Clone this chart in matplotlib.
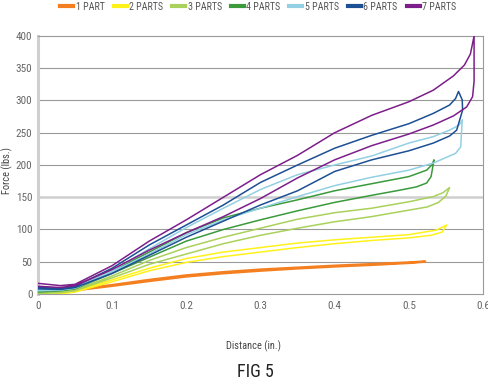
import matplotlib.pyplot as plt
from matplotlib import font_manager
from matplotlib.lines import Line2D

# distance (in.) along the outgoing (upper) branch and force (lbs.)
x_common = [0, 0.03, 0.05, 0.1, 0.15, 0.2, 0.25, 0.3, 0.35, 0.4, 0.45, 0.5]

p1_up_x = x_common + [0.522]
p1_up_f = [1, 5, 7, 14, 22, 29, 34, 38, 41, 44, 46.5, 49, 50.5]
p1_dn_x = x_common + [0.522]
p1_dn_f = [0, 3.5, 5.5, 12.5, 20, 27, 32, 36, 39.5, 42.5, 45, 48, 50]

p2_up_x = x_common + [0.537, 0.551]
p2_up_f = [-1, 2, 5, 22, 40, 55, 65, 72, 79, 84, 88, 92, 99, 107]
p2_dn_x = x_common + [0.53, 0.545, 0.551]
p2_dn_f = [-4, 0, 3, 19, 36, 49, 58, 65, 72, 78, 83, 87, 91, 96, 107]

p3_up_x = x_common + [0.533, 0.546, 0.555]
p3_up_f = [3, 4, 6, 28, 52, 72, 88, 102, 116, 126, 133, 143, 151, 157, 165]
p3_dn_x = x_common + [0.525, 0.54, 0.55, 0.555]
p3_dn_f = [1, 2, 5, 25, 46, 62, 78, 91, 102, 112, 120, 130, 135, 142, 152, 165]

p4_up_x = x_common + [0.524, 0.531, 0.534]
p4_up_f = [5, 6, 9, 36, 65, 95, 118, 133, 146, 160, 171, 182, 192, 200, 208]
p4_dn_x = x_common[:-1] + [0.488, 0.51, 0.524, 0.530, 0.534]
p4_dn_f = [3, 5, 8, 32, 57, 82, 100, 115, 129, 142, 153, 161, 166, 172, 182, 208]

p5_up_x = x_common + [0.533, 0.555, 0.568, 0.572]
p5_up_f = [7, 7, 10, 36, 70, 103, 133, 162, 185, 200, 214, 234, 244, 254, 262, 270]
p5_dn_x = x_common + [0.533, 0.551, 0.563, 0.570, 0.572]
p5_dn_f = [5, 6, 9, 34, 62, 92, 115, 133, 151, 168, 181, 192, 203, 212, 218, 228, 270]

p6_up_x = x_common + [0.533, 0.555, 0.563, 0.567]
p6_up_f = [10, 9, 12, 40, 76, 107, 138, 173, 200, 226, 246, 264, 280, 293, 303, 314]
p6_dn_x = x_common + [0.533, 0.555, 0.5645, 0.5725, 0.572, 0.567]
p6_dn_f = [8, 7, 10, 32, 60, 88, 113, 138, 160, 190, 208, 222, 234, 245, 254, 285, 301, 314]

p7_up_x = x_common + [0.533, 0.56, 0.575, 0.583, 0.588]
p7_up_f = [16.5, 13, 15, 44, 82, 115, 150, 185, 215, 250, 277, 298, 316, 338, 355, 372, 400]
p7_dn_x = x_common + [0.533, 0.56, 0.578, 0.586, 0.588, 0.588]
p7_dn_f = [12, 10, 13, 38, 68, 95, 120, 148, 180, 208, 230, 248, 262, 276, 290, 306, 330, 400]

labels = ['1 PART', '2 PARTS', '3 PARTS', '4 PARTS', '5 PARTS', '6 PARTS', '7 PARTS']
colors = ['#F47F20', '#FFF21A', '#A9D15B', '#3A9A3C', '#93D0E3', '#1D4F95', '#7D1E8A']

series = [
    (p1_up_x, p1_up_f, p1_dn_x, p1_dn_f),
    (p2_up_x, p2_up_f, p2_dn_x, p2_dn_f),
    (p3_up_x, p3_up_f, p3_dn_x, p3_dn_f),
    (p4_up_x, p4_up_f, p4_dn_x, p4_dn_f),
    (p5_up_x, p5_up_f, p5_dn_x, p5_dn_f),
    (p6_up_x, p6_up_f, p6_dn_x, p6_dn_f),
    (p7_up_x, p7_up_f, p7_dn_x, p7_dn_f),
]

# pick a narrow sans if one is around
installed = {f.name for f in font_manager.fontManager.ttflist}
font = 'Roboto'
for cand in ['Liberation Sans Narrow', 'DejaVu Sans Condensed', 'Roboto Condensed']:
    if cand in installed:
        font = cand
        break
narrow = font != 'Roboto'
plt.rcParams['font.family'] = [font, 'DejaVu Sans']
if not narrow:
    plt.rcParams['font.stretch'] = 'condensed'

fs_small = 7.5 if narrow else 6.8

fig = plt.figure(figsize=(4.89, 3.83), dpi=100)
ax = fig.add_axes([0.0777, 0.2324, 0.9100, 0.6736])

for i, (ux, uf, dx, df) in enumerate(series):
    xs = ux + dx[::-1]
    fs = uf + df[::-1]
    lw = 1.6 if i == 0 else 1.1
    ax.plot(xs, fs, color=colors[i], lw=lw, solid_joinstyle='round', zorder=3)

ax.set_xlim(0, 0.6)
ax.set_ylim(0, 400)
ax.set_xticks([0, 0.1, 0.2, 0.3, 0.4, 0.5, 0.6])
ax.set_xticklabels(['0', '0.1', '0.2', '0.3', '0.4', '0.5', '0.6'])
ax.set_yticks(range(0, 401, 50))

for v in range(50, 400, 50):
    if v == 150:
        ax.axhline(v, color='#cfcfcf', lw=1.8, zorder=1)
    else:
        ax.axhline(v, color='#9a9a9a', lw=0.8, zorder=1)

for s in ['top', 'right', 'bottom']:
    ax.spines[s].set_color('#9a9a9a')
    ax.spines[s].set_linewidth(0.8)
ax.spines['left'].set_color('#cfcfcf')
ax.spines['left'].set_linewidth(2.2)

ax.tick_params(length=0, labelsize=fs_small + 0.5, colors='#666666')
ax.tick_params(axis='x', pad=5)
ax.tick_params(axis='y', pad=4)

fig.text(0.014, 0.555, 'Force (lbs.)', rotation=90, ha='center', va='center',
         fontsize=fs_small, color='#444444')
fig.text(0.518, 0.095, 'Distance (in.)', ha='center', va='center',
         fontsize=fs_small, color='#444444')
fig.text(0.522, 0.03, 'FIG 5', ha='center', va='center', fontsize=13, color='#222222')

handles = [Line2D([0], [0], color=c, lw=3) for c in colors]
fig.legend(handles, labels, loc='center', bbox_to_anchor=(0.528, 0.982), ncol=7,
           frameon=False, fontsize=fs_small - 0.3, handlelength=1.3, handletextpad=0.25,
           columnspacing=0.9, labelcolor='#555555')

fig.savefig('out.png', dpi=100)
